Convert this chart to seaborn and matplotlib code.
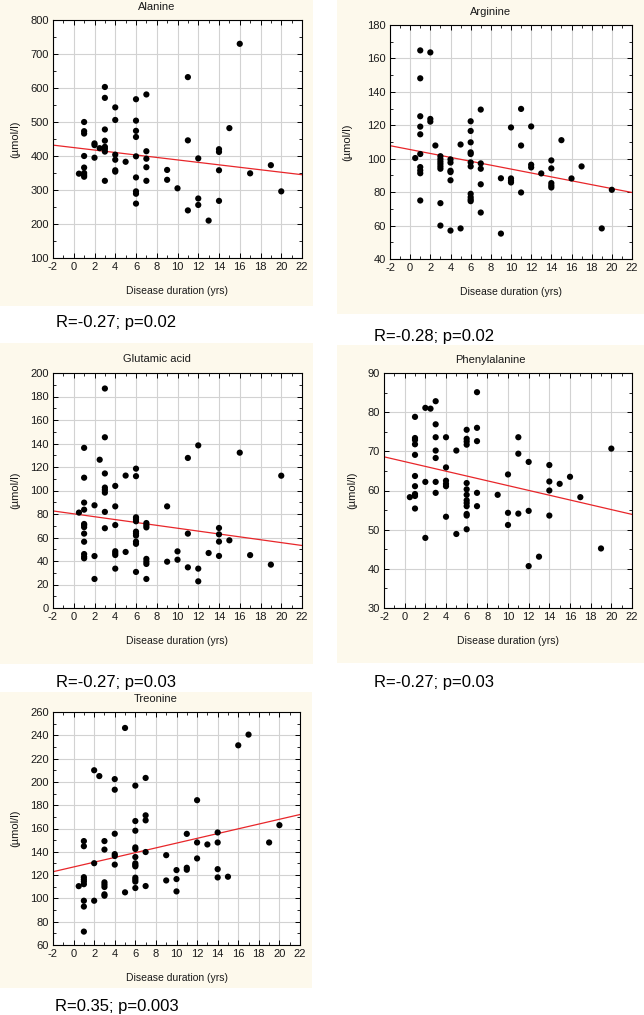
import matplotlib
matplotlib.use("Agg")
import matplotlib.pyplot as plt
import seaborn as sns
import pandas as pd
from matplotlib.patches import Rectangle
from matplotlib.ticker import MultipleLocator

sns.set_theme(style="white")
plt.rcParams['font.family'] = ['Liberation Sans', 'DejaVu Sans']
plt.rcParams['axes.unicode_minus'] = False

# ---------------- data ----------------
x_ticks = [-2, 0, 2, 4, 6, 8, 10, 12, 14, 16, 18, 20, 22]

ala_x = [0.5, 1, 1, 1, 1, 1, 1, 1, 1, 2, 2, 2, 2.5, 3, 3, 3, 3, 3, 3, 3, 3,
         4, 4, 4, 4, 4, 4, 5, 6, 6, 6, 6, 6, 6, 6, 6, 6, 7, 7, 7, 7, 7,
         9, 9, 10, 11, 11, 11, 12, 12, 12, 13, 14, 14, 14, 14, 15, 16, 17, 19, 20]
ala_y = [348, 500, 473, 466, 400, 366, 350, 344, 339, 437, 432, 395, 423,
         603, 571, 478, 445, 427, 421, 413, 327,
         543, 506, 404, 389, 358, 354, 383,
         567, 504, 474, 456, 399, 337, 296, 289, 260,
         581, 414, 392, 367, 327,
         359, 330, 305, 632, 446, 240, 393, 275, 256, 210,
         420, 412, 358, 268, 482, 730, 349, 373, 296]
ala_fit = [432, 345]

arg_x = [0.5, 1, 1, 1, 1, 1, 1, 1, 1, 1, 1, 2, 2, 2, 2.5, 3, 3, 3, 3, 3, 3, 3, 3,
         4, 4, 4, 4, 4, 4, 5, 5, 6, 6, 6, 6, 6, 6, 6, 6, 6, 6, 6,
         7, 7, 7, 7, 7, 9, 9, 10, 10, 10, 10, 11, 11, 11, 12, 12, 12, 13,
         14, 14, 14, 14, 14, 15, 16, 17, 19, 20]
arg_y = [100.4, 164.8, 148.1, 125.4, 119.2, 114.6, 102.8, 95, 93, 91.3, 75,
         163.6, 123.8, 122.2, 107.9,
         101.5, 99.8, 98.3, 96.9, 95.4, 94, 73.4, 60,
         99.6, 97.7, 92.8, 92, 87.1, 57, 108.5, 58.3,
         122.4, 116.6, 109.8, 103.8, 102.8, 97.8, 95.4, 79, 77, 75.6, 74.6,
         129.4, 97.2, 94, 84.7, 67.8, 88.3, 55.2,
         118.7, 88.2, 86.8, 85.8, 129.8, 107.9, 79.8, 119.3, 96.4, 94.8, 91.2,
         99, 94.2, 85.4, 84, 82.8, 111.1, 88.2, 95.4, 58.3, 81.4]
arg_fit = [107.8, 79.8]

glu_x = [0.5] + [1] * 12 + [2, 2, 2, 2.5] + [3] * 8 + [4] * 7 + [5, 5] + [6] * 11 + [7] * 7 + \
        [9, 9, 10, 10, 11, 11, 11, 12, 12, 12, 13, 14, 14, 14, 14, 15, 16, 17, 19, 20]
glu_y = [81.2,
         136.3, 110.9, 89.7, 83.7, 71.5, 70.5, 68.8, 63.3, 56.4, 45.9, 43.7, 42.3,
         87.4, 44.2, 24.7, 126.2,
         186.8, 145.3, 114.5, 102.5, 100.5, 98.2, 81.8, 67.9,
         103.9, 86.5, 70.6, 48.3, 46.7, 45.1, 33.5,
         112.7, 47.7,
         118.6, 112.2, 77.2, 75.6, 73.8, 65, 63.3, 61.6, 56.5, 54.6, 30.7,
         72.3, 70.4, 68.6, 41.8, 39.5, 37.5, 24.7,
         86.5, 39.4, 48.2, 41.1, 127.7, 63.3, 34.6, 138.4, 33.5, 22.7, 46.8,
         68.1, 62.7, 56.5, 44.3, 57.6, 132.2, 45, 36.9, 112.6]
glu_fit = [82.6, 53.2]

phe_x = [0.5] + [1] * 10 + [2, 2, 2, 2.5] + [3] * 7 + [4] * 6 + [5, 5] + [6] * 13 + [7] * 5 + \
        [9, 10, 10, 10, 11, 11, 11, 12, 12, 12, 13, 14, 14, 14, 14, 15, 16, 17, 19, 20]
phe_y = [58.3,
         78.8, 73.4, 72.9, 71.8, 69.1, 63.7, 61.1, 59.1, 58.6, 55.4,
         81.1, 62.2, 47.9, 80.9,
         82.8, 76.9, 73.6, 70.2, 68.3, 62.2, 59.4,
         73.6, 65.9, 62.5, 61.7, 61.1, 53.3,
         70.2, 48.9,
         75.5, 73.2, 72.5, 71.7, 61.9, 60.3, 58.9, 57.5, 56.8, 56, 54, 53.6, 50.1,
         85.1, 76, 72.6, 59.4, 56,
         58.9, 64.1, 54.3, 51.2, 73.6, 69.4, 54.1, 67.3, 54.8, 40.7, 43.1,
         66.5, 62.3, 60, 53.6, 61.7, 63.5, 58.3, 45.2, 70.7]
phe_fit = [68.6, 53.9]

thr_x = [0.5] + [1] * 9 + [2, 2, 2, 2.5] + [3] * 7 + [4] * 6 + [5, 5] + [6] * 13 + [7] * 5 + \
        [9, 9, 10, 10, 10, 11, 11, 11, 12, 12, 12, 13, 14, 14, 14, 14, 15, 16, 17, 19, 20]
thr_y = [110.5,
         149.2, 144.8, 118.2, 116.3, 114.5, 112.2, 98, 93, 71.5,
         210, 130.2, 98, 205,
         149.2, 141.9, 113.8, 111.8, 109.8, 103.5, 102.3,
         202.4, 193.3, 155.5, 138, 136.4, 129,
         246.3, 105.2,
         196.8, 166.4, 158.1, 143.8, 142.4, 135.5, 130.1, 128.7, 127.5, 117.8, 116.1, 114.4, 108.9,
         203.4, 171.3, 167, 139.8, 110.6,
         137.1, 115.4, 124.3, 116.6, 106, 155.4, 126.3, 124.6, 184.3, 148, 134.3, 146.3,
         156.6, 148, 125.1, 118, 118.6, 231.4, 240.6, 148, 162.9]
thr_fit = [122.9, 172.0]

titles = ["Alanine", "Arginine", "Glutamic acid", "Phenylalanine", "Treonine"]
stats = ["R=-0.27; p=0.02", "R=-0.28; p=0.02", "R=-0.27; p=0.03",
         "R=-0.27; p=0.03", "R=0.35; p=0.003"]
ylims = [(100, 800), (40, 180), (0, 200), (30, 90), (60, 260)]
ysteps = [100, 20, 20, 10, 20]
xs = [ala_x, arg_x, glu_x, phe_x, thr_x]
ys = [ala_y, arg_y, glu_y, phe_y, thr_y]
fits = [ala_fit, arg_fit, glu_fit, phe_fit, thr_fit]

# ---------------- layout (pixels) ----------------
W, H = 644, 1015
cream_boxes = [(0, 0, 313, 306), (337, 0, 644, 314), (0, 343, 313, 664),
               (337, 345, 644, 663), (0, 692, 312, 988)]
axes_boxes = [(53, 20, 302, 258), (390, 25, 632, 259), (53, 373, 302, 608),
              (384, 373, 632, 608), (53, 712, 300, 945)]
title_y = [7, 12, 359, 360, 699]
ylab_x = [15, 347, 15, 352, 15]
stat_pos = [(56, 323), (374, 336), (56, 683), (374, 683), (55, 1006)]

CREAM = '#fdf9ec'
RED = '#e8262a'

fig = plt.figure(figsize=(W / 100, H / 100), dpi=100)
fig.patch.set_facecolor('white')


def fx(px):
    return px / W


def fy(py):
    return 1 - py / H


for i in range(5):
    cx0, cy0, cx1, cy1 = cream_boxes[i]
    fig.patches.append(Rectangle((fx(cx0), fy(cy1)), (cx1 - cx0) / W, (cy1 - cy0) / H,
                                 transform=fig.transFigure, facecolor=CREAM,
                                 edgecolor='none', zorder=-10))
    ax0, ay0, ax1, ay1 = axes_boxes[i]
    ax = fig.add_axes([fx(ax0), fy(ay1), (ax1 - ax0) / W, (ay1 - ay0) / H])
    ax.set_zorder(5)
    ax.set_facecolor('white')
    df = pd.DataFrame({'dur': xs[i], 'val': ys[i]})
    sns.scatterplot(data=df, x='dur', y='val', ax=ax, color='black', s=20,
                    edgecolor='none', marker='o', zorder=3, legend=False)
    sns.lineplot(x=[-2, 22], y=fits[i], ax=ax, color=RED, lw=0.9, zorder=2)
    ax.set_xlim(-2, 22)
    ax.set_ylim(*ylims[i])
    ax.set_xticks(x_ticks)
    ax.xaxis.set_minor_locator(MultipleLocator(1))
    ax.yaxis.set_major_locator(MultipleLocator(ysteps[i]))
    ax.yaxis.set_minor_locator(MultipleLocator(ysteps[i] / 2))
    ax.grid(True, which='major', color='#d2d2d2', lw=0.8, zorder=0)
    ax.set_axisbelow(True)
    ax.tick_params(which='both', direction='in', top=True, right=True,
                   bottom=True, left=True, colors='black', labelsize=8,
                   labelcolor='#1a1a1a', pad=3)
    ax.tick_params(which='major', length=3.5, width=0.7)
    ax.tick_params(which='minor', length=2, width=0.6)
    for sp in ax.spines.values():
        sp.set_color('black')
        sp.set_linewidth(0.8)
    ax.set_xlabel('')
    ax.set_ylabel('')
    # texts
    fig.text(fx((cx0 + cx1) / 2), fy(title_y[i]), titles[i], ha='center', va='center',
             fontsize=8, color='#1a1a1a')
    fig.text(fx((ax0 + ax1) / 2), fy(ay1 + 33), 'Disease duration (yrs)', ha='center',
             va='center', fontsize=7.5, color='#1a1a1a')
    fig.text(fx(ylab_x[i]), fy((ay0 + ay1) / 2), '(µmol/l)', ha='center', va='center',
             rotation=90, fontsize=8, color='#1a1a1a')
    sx, sy = stat_pos[i]
    fig.text(fx(sx), fy(sy), stats[i], ha='left', va='center', fontsize=12, color='black')

fig.savefig('out.png', dpi=100, facecolor='white')
